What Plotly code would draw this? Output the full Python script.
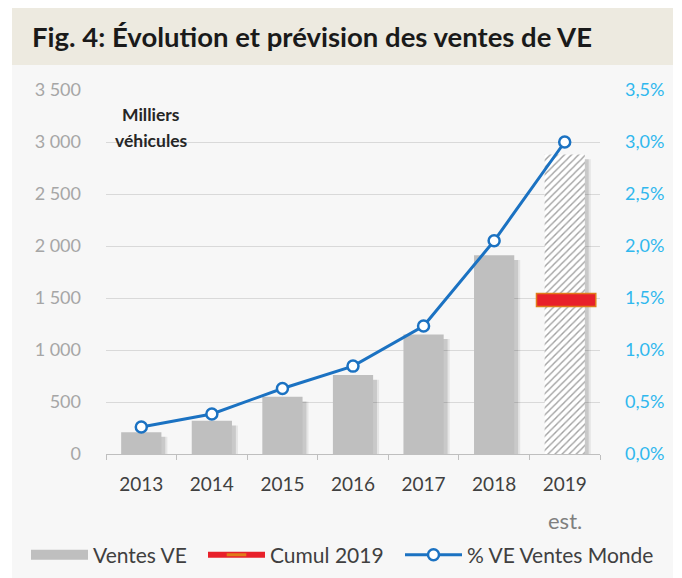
import plotly.graph_objects as go

years = ["2013", "2014", "2015", "2016", "2017", "2018", "2019"]
ventes_ve = [210, 320, 550, 760, 1150, 1910, 2880]          # milliers de véhicules
pct_ventes_monde = [0.26, 0.385, 0.63, 0.845, 1.23, 2.05, 3.0]  # %
cumul_year = ["2019"]
cumul_2019 = [1.48]  # %
left_ticks = [0, 500, 1000, 1500, 2000, 2500, 3000, 3500]
right_ticks = [0, 0.5, 1.0, 1.5, 2.0, 2.5, 3.0, 3.5]

FONT = "Lato"
OFF = 8  # page body margin
W, H = 682 - OFF, 578 - OFF
L = 106 - OFF
T = 90 - OFF
R = 682 - 600
B = 578 - 454
pw = W - L - R
ph = H - T - B

def px_x(p):
    return (p - OFF - L) / pw

def px_y(p):
    return (T + ph - (p - OFF)) / ph

def cont_y(p):
    return 1 - (p - OFF) / H

fig = go.Figure()

bar_w = 0.57
# soft shadow layers
for dx, alpha in [(0.085, 0.07), (0.055, 0.12)]:
    fig.add_trace(go.Bar(
        x=years, y=ventes_ve, base=[-45] * len(years),
        width=bar_w, offset=-bar_w / 2 + dx,
        marker=dict(color=f"rgba(0,0,0,{alpha})", line=dict(width=0)),
        showlegend=False, hoverinfo="skip",
    ))

colors = ["#bfbfbf"] * (len(years) - 1) + ["#ffffff"]
shapes = [""] * (len(years) - 1) + ["/"]
fig.add_trace(go.Bar(
    x=years, y=ventes_ve, name="Ventes VE",
    width=bar_w, offset=-bar_w / 2,
    marker=dict(color=colors, line=dict(width=0),
                pattern=dict(shape=shapes, fgcolor="#b3b3b3", bgcolor="#ffffff",
                             size=5, solidity=0.28)),
    showlegend=False,
))
# legend entry for Ventes VE (wide grey block, as in the original)
fig.add_trace(go.Scatter(
    x=[None], y=[None], mode="lines", name="Ventes VE",
    line=dict(color="#bfbfbf", width=13), legend="legend",
))

thick = 0.125
fig.add_trace(go.Bar(
    x=cumul_year, y=[thick / 100] * len(cumul_year),
    base=[(v - thick / 2) / 100 for v in cumul_2019],
    yaxis="y2", width=0.84, offset=-0.42 + 0.02,
    marker=dict(color="#e8202a", line=dict(color="#e07b1a", width=1.5)),
    showlegend=False, hoverinfo="skip",
))
# legend entry for Cumul 2019
fig.add_trace(go.Scatter(
    x=[None], y=[None], mode="lines+markers", name="Cumul 2019",
    line=dict(color="#e8202a", width=6), yaxis="y2",
    marker=dict(symbol="line-ew", size=14, line=dict(color="#e07b1a", width=3)),
    legend="legend2",
))

fig.add_trace(go.Scatter(
    x=years, y=[v / 100 for v in pct_ventes_monde], yaxis="y2",
    mode="lines+markers", name="% VE Ventes Monde",
    line=dict(color="#1b72c2", width=3),
    marker=dict(size=11, color="white", line=dict(color="#1b72c2", width=2.5)),
    legend="legend3",
))

def leg(sym_start):
    return dict(
        orientation="h", x=px_x(sym_start - 7), y=cont_y(555), yref="container",
        xanchor="left", yanchor="middle",
        font=dict(size=21, color="#404040"), bgcolor="rgba(0,0,0,0)",
        itemwidth=57,
    )

fig.update_layout(
    width=W, height=H,
    margin=dict(l=L, r=R, t=T, b=B),
    paper_bgcolor="white", plot_bgcolor="rgba(0,0,0,0)",
    separators=", ",
    barmode="overlay",
    font=dict(family=FONT, size=16, color="#404040"),
    xaxis=dict(
        type="category", tickson="boundaries", ticks="outside", ticklen=5,
        tickcolor="#bfbfbf", showline=True, linecolor="#bfbfbf", linewidth=1,
        showgrid=False, tickfont=dict(size=19, color="#404040"),
        ticklabelstandoff=13, range=[-0.5, 6.5],
    ),
    yaxis=dict(
        range=[0, 3500], tickvals=left_ticks, tickformat=",d",
        showgrid=True, gridcolor="#d9d9d9", gridwidth=1, zeroline=False,
        tickfont=dict(size=18, color="#a6a6a6"), ticks="", ticklabelstandoff=24,
    ),
    yaxis2=dict(
        overlaying="y", side="right", range=[0, 0.035],
        tickvals=[v / 100 for v in right_ticks], tickformat=".1%",
        showgrid=False, zeroline=False,
        tickfont=dict(size=18, color="#30b8ee"), ticks="", ticklabelstandoff=24,
    ),
    legend=leg(33),
    legend2=leg(210),
    legend3=leg(407),
    shapes=[
        dict(type="rect", xref="paper", yref="paper", layer="below",
             x0=px_x(12), x1=px_x(673), y0=px_y(65), y1=px_y(8),
             fillcolor="#edeae0", line=dict(width=0)),
        dict(type="rect", xref="paper", yref="paper", layer="below",
             x0=px_x(12), x1=px_x(673), y0=px_y(578), y1=px_y(65),
             fillcolor="#f7f7f7", line=dict(width=0)),
    ],
    annotations=[
        dict(text="<b>Fig. 4: Évolution et prévision des ventes de VE</b>",
             xref="paper", yref="paper", x=px_x(30), y=px_y(36),
             xanchor="left", yanchor="middle", showarrow=False,
             font=dict(size=27.5, color="#1a1a1a", family=FONT)),
        dict(text="<b>Milliers</b>", xref="paper", yref="paper",
             x=px_x(151), y=px_y(114), xanchor="center", yanchor="middle",
             showarrow=False, font=dict(size=17.5, color="#262626")),
        dict(text="<b>véhicules</b>", xref="paper", yref="paper",
             x=px_x(151), y=px_y(140), xanchor="center", yanchor="middle",
             showarrow=False, font=dict(size=17.5, color="#262626")),
        dict(text="est.", xref="x", yref="paper", x=6, y=px_y(520),
             xanchor="center", yanchor="middle", showarrow=False,
             font=dict(size=22, color="#7f7f7f")),
    ],
)

fig.write_html("out.html")
